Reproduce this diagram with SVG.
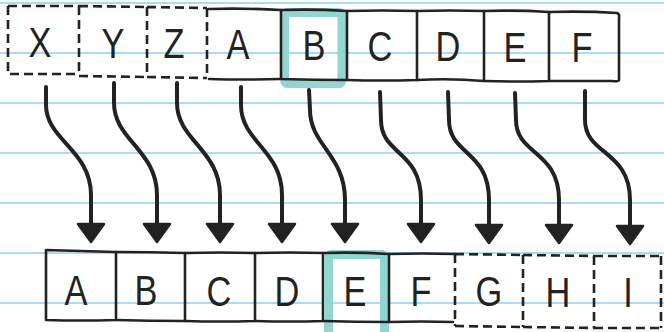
<svg xmlns="http://www.w3.org/2000/svg" width="664" height="332" viewBox="0 0 664 332">
<style>
.bg{fill:#ffffff}
.rule{stroke:#a9dcf2;stroke-width:2;fill:none}
.hl{fill:none;stroke:#93d5cf;stroke-width:9;stroke-linejoin:round}
.solid{fill:none;stroke:#222;stroke-width:2.6;stroke-linecap:round;stroke-linejoin:round}
.dash{fill:none;stroke:#222;stroke-width:2.6;stroke-dasharray:9 5;stroke-linecap:butt}
.lt{font-family:"Liberation Sans",Arial,sans-serif;font-size:43px;fill:#222;text-anchor:middle}
.arr{fill:none;stroke:#222;stroke-width:4;stroke-linecap:round}
</style>
<defs>
<marker id="head" markerUnits="userSpaceOnUse" viewBox="-2 -16 24 32" markerWidth="24" markerHeight="32" refX="0" refY="0" orient="auto">
<path d="M0,-13 L0,13 L18,0 Z" fill="#222" stroke="#222" stroke-width="2.5" stroke-linejoin="round"/>
</marker>
</defs>
<rect class="bg" x="0" y="0" width="664" height="332"/>
<g id="rules">
<line class="rule" x1="0" y1="3" x2="664" y2="3"/>
<line class="rule" x1="0" y1="53" x2="664" y2="53"/>
<line class="rule" x1="0" y1="103" x2="664" y2="103"/>
<line class="rule" x1="0" y1="153" x2="664" y2="153"/>
<line class="rule" x1="0" y1="203" x2="664" y2="203"/>
<line class="rule" x1="0" y1="253" x2="664" y2="253"/>
<line class="rule" x1="0" y1="303" x2="664" y2="303"/>
</g>
<g id="top-X">
<path class="dash" d="M8,6 L79,6 M8,6 L8,74 L79,74"/>
<text class="lt" transform="translate(40,57) scale(0.8,1)">X</text>
</g>
<g id="top-Y">
<path class="dash" d="M79,6 L79,76 M79,6 L147,7 M79,76 L147,77"/>
<text class="lt" transform="translate(113,58) scale(0.8,1)">Y</text>
</g>
<g id="top-Z">
<path class="dash" d="M147,7 L147,77 M147,7 L207,8 M147,77 L207,78 M207,8 L207,78"/>
<text class="lt" transform="translate(174,58) scale(0.8,1)">Z</text>
</g>
<g id="top-A">
<path class="solid" d="M209,9 Q245,8 281,10 M209,79 Q245,80 281,79"/>
<text class="lt" transform="translate(238,59) scale(0.8,1)">A</text>
</g>
<g id="top-B">
<rect class="hl" x="284.5" y="12.5" width="57.5" height="71" rx="3"/>
<path class="solid" d="M281,10 L281,79 M281,10 Q315,9 347,11 M281,79 Q315,80 347,80 M347,11 L347,80"/>
<text class="lt" transform="translate(314,60) scale(0.8,1)">B</text>
</g>
<g id="top-C">
<path class="solid" d="M347,11 Q382,10 417,11 M347,80 Q382,81 417,80 M417,11 L417,80"/>
<text class="lt" transform="translate(380,61) scale(0.8,1)">C</text>
</g>
<g id="top-D">
<path class="solid" d="M417,11 Q450,10 484,11 M417,80 Q450,78 484,81 M484,11 L484,81"/>
<text class="lt" transform="translate(448,61) scale(0.8,1)">D</text>
</g>
<g id="top-E">
<path class="solid" d="M484,11 Q516,10 549,12 M484,81 Q516,82 549,81 M549,12 L549,81"/>
<text class="lt" transform="translate(515,62) scale(0.8,1)">E</text>
</g>
<g id="top-F">
<path class="solid" d="M549,12 Q585,11 617,13 Q620,14 619,18 L619,80 Q618,82 612,81 L549,81"/>
<text class="lt" transform="translate(582,62) scale(0.8,1)">F</text>
</g>
<g id="bot-A">
<path class="solid" d="M46,250 L46,320 M46,250 Q80,251 116,252 M46,320 Q80,321 116,320 M116,252 L116,320"/>
<text class="lt" transform="translate(76,305) scale(0.8,1)">A</text>
</g>
<g id="bot-B">
<path class="solid" d="M116,252 Q150,252 185,253 M116,320 Q150,321 185,321 M185,253 L185,321"/>
<text class="lt" transform="translate(146,305) scale(0.8,1)">B</text>
</g>
<g id="bot-C">
<path class="solid" d="M185,253 Q220,252 255,253 M185,321 Q220,322 255,321 M255,253 L255,321"/>
<text class="lt" transform="translate(219,306) scale(0.8,1)">C</text>
</g>
<g id="bot-D">
<path class="solid" d="M255,253 Q290,252 323,253 M255,321 Q290,322 323,321 M323,253 L323,321"/>
<text class="lt" transform="translate(287,306) scale(0.8,1)">D</text>
</g>
<g id="bot-E">
<rect class="hl" x="328.5" y="254.5" width="56" height="90" rx="3"/>
<path class="solid" d="M323,253 Q356,252 389,254 M323,321 Q356,322 389,322 M389,254 L389,322"/>
<text class="lt" transform="translate(355,306) scale(0.8,1)">E</text>
</g>
<g id="bot-F">
<path class="solid" d="M389,254 Q422,253 455,254 M389,322 Q422,321 453,322"/>
<text class="lt" transform="translate(421,306) scale(0.8,1)">F</text>
</g>
<g id="bot-G">
<path class="dash" d="M455,254 L455,326 M455,254 L523,255 M455,326 L523,327 M523,255 L523,327"/>
<text class="lt" transform="translate(489,306) scale(0.8,1)">G</text>
</g>
<g id="bot-H">
<path class="dash" d="M523,255 L594,256 M523,327 L594,328 M594,256 L594,328"/>
<text class="lt" transform="translate(558,307) scale(0.8,1)">H</text>
</g>
<g id="bot-I">
<path class="dash" d="M594,256 L662,256 M594,328 L662,328 M661,256 L661,328"/>
<text class="lt" transform="translate(628,307) scale(0.8,1)">I</text>
</g>
<g id="connectors">
<path class="arr" marker-end="url(#head)" d="M46,87 L46,105 C46,140 91,150 91,195 L91,224"/>
<path class="arr" marker-end="url(#head)" d="M114,83 L114,103 C114,140 157,150 157,195 L157,224"/>
<path class="arr" marker-end="url(#head)" d="M177,83 L177,103 C177,140 220,150 220,195 L220,224"/>
<path class="arr" marker-end="url(#head)" d="M241,87 L241,105 C241,142 282,150 282,195 L282,224"/>
<path class="arr" marker-end="url(#head)" d="M309,90 L310,110 C310,145 345,155 345,200 L345,224"/>
<path class="arr" marker-end="url(#head)" d="M380,92 L381,120 C381,155 421,150 421,200 L421,224"/>
<path class="arr" marker-end="url(#head)" d="M448,92 L449,120 C449,155 489,150 489,200 L489,225"/>
<path class="arr" marker-end="url(#head)" d="M515,93 L516,120 C516,155 559,150 559,200 L559,225"/>
<path class="arr" marker-end="url(#head)" d="M585,91 L585,120 C585,155 630,150 630,200 L630,226"/>
</g>
</svg>
